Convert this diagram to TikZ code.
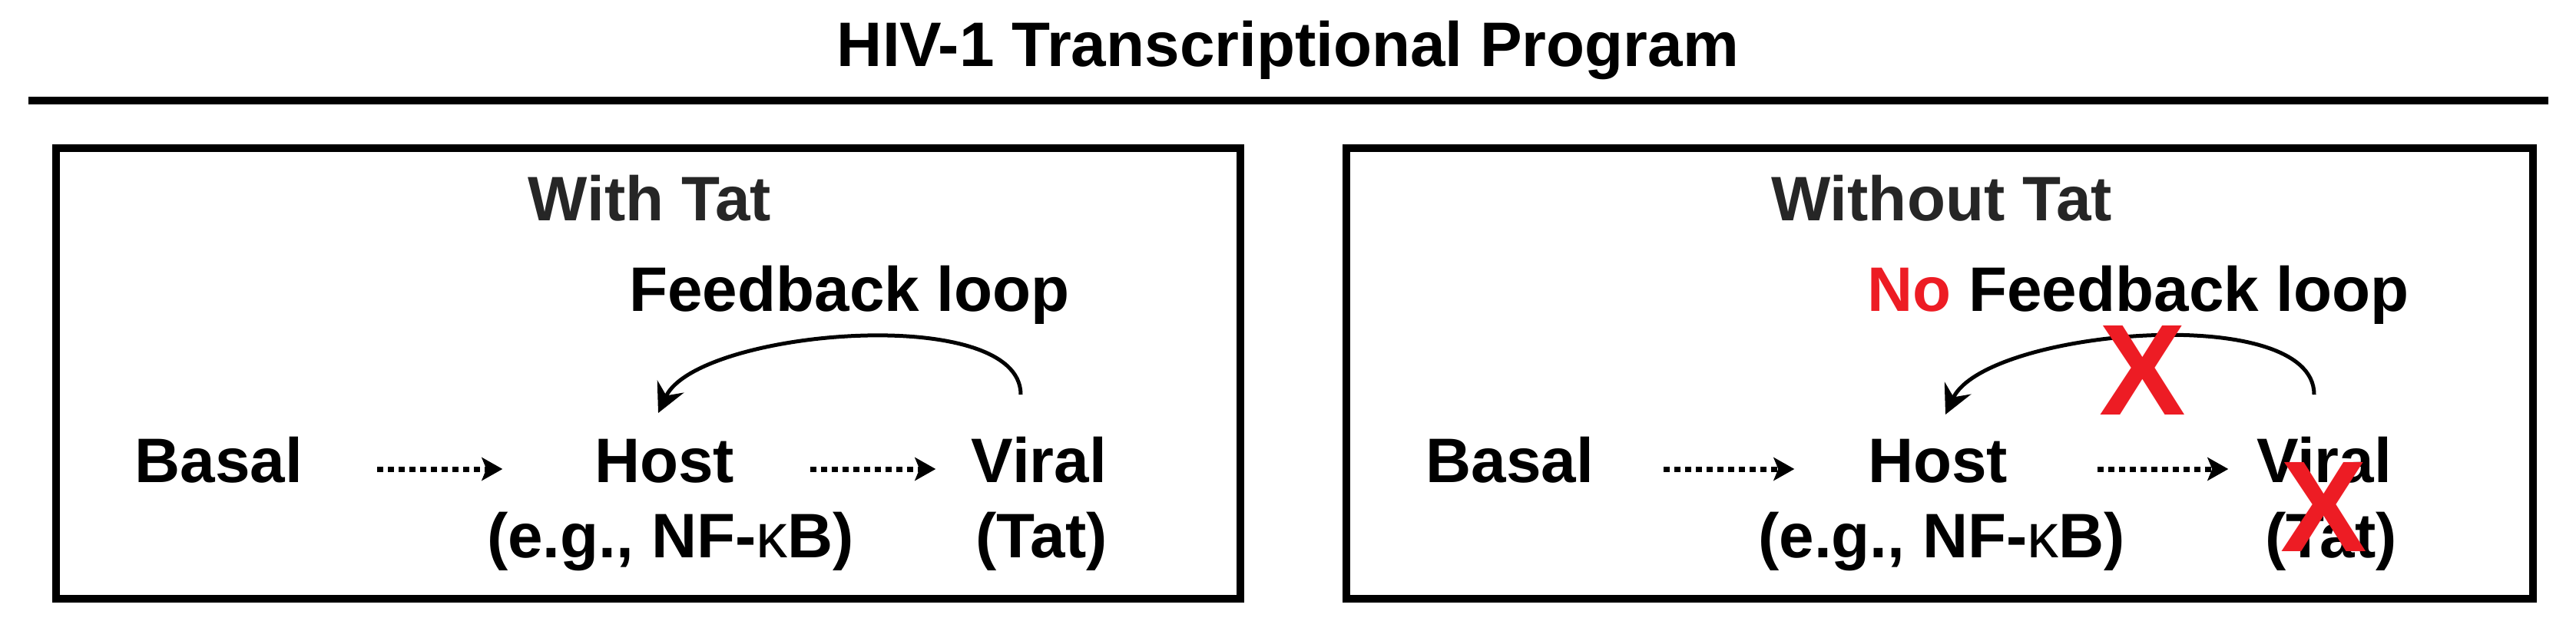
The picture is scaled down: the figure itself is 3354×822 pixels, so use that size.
\documentclass[tikz,border=0pt]{standalone}
\usepackage{fontspec}
\setmainfont{Liberation Sans}
\usetikzlibrary{arrows.meta,positioning}
\definecolor{xred}{RGB}{237,28,36}

\begin{document}
\begin{tikzpicture}[x=0.1mm,y=0.1mm,
  txt/.style={inner sep=0,anchor=base,font=\bfseries\fontsize{23.3}{28}\selectfont},
  head/.style={txt,text=black!85},
  nomark/.style={inner sep=0,anchor=base,text=xred,font=\bfseries\fontsize{48}{48}\selectfont},
  panel/.style={draw,line width=1mm},
  flow/.style={line width=0.7mm,dash pattern=on 0.8mm off 0.6mm,
    -{Stealth[length=2.7mm,width=3mm,inset=0.6mm]}},
  feedback/.style={line width=0.5mm,-{Stealth[length=3.8mm,width=3.8mm,inset=1.3mm]}}
]
\useasboundingbox (0,0) rectangle (3354,-822);

\node[txt] (title) at (1677,-86) {HIV-1 Transcriptional Program};
\draw[line width=1mm] (37,-131) -- (3318,-131);

% with Tat
\draw[panel] (73,-193) rectangle (1615,-780);
\node[head] (withtat) at (846,-287) {With Tat};
\node[txt] (loop) at (1106,-405) {Feedback loop};
\node[txt] (basal) at (285,-628) {Basal};
\node[txt] (host) at (865,-628) {Host};
\node[txt] (viral) at (1353,-628) {Viral};
\node[txt] (hostnote) at (873,-726) {(e.g., NF-{\mdseries κ}B)};
\node[txt] (viralnote) at (1356,-726) {(Tat)};
\draw[flow,shorten <=9.6mm,shorten >=11.9mm] ([yshift=1.7mm]basal.base east) -- ([yshift=1.7mm]host.base west);
\draw[flow,shorten <=9.8mm,shorten >=4.6mm] ([yshift=1.7mm]host.base east) -- ([yshift=1.7mm]viral.base west);
\draw[feedback] ([xshift=-2.4mm,yshift=11.4mm]viral.base) to[out=90,in=65,looseness=0.65] ([xshift=-0.8mm,yshift=9mm]host.base);

% without Tat
\draw[panel] (1753,-193) rectangle (3298,-780);
\node[head] (withouttat) at (2528,-287) {Without Tat};
\node[txt] (noloop) at (2784,-405) {{\color{xred}No} Feedback loop};
\node[txt] (basal2) at (1966,-628) {Basal};
\node[txt] (host2) at (2523,-628) {Host};
\node[txt] (viral2) at (3026,-628) {Viral};
\node[txt] (hostnote2) at (2528,-726) {(e.g., NF-{\mdseries κ}B)};
\node[txt] (viralnote2) at (3035,-726) {(Tat)};
\draw[flow,shorten <=9mm,shorten >=9.5mm] ([yshift=1.7mm]basal2.base east) -- ([yshift=1.7mm]host2.base west);
\draw[flow,shorten <=11.6mm,shorten >=3.6mm] ([yshift=1.7mm]host2.base east) -- ([yshift=1.7mm]viral2.base west);
\draw[feedback] ([xshift=-1.3mm,yshift=11.4mm]viral2.base) to[out=90,in=65,looseness=0.65] ([xshift=1mm,yshift=8.8mm]host2.base);
\node[nomark] (cutloop) at (2790,-540) {X};
\node[nomark] (cutviral) at (3026,-718) {X};
\end{tikzpicture}
\end{document}
